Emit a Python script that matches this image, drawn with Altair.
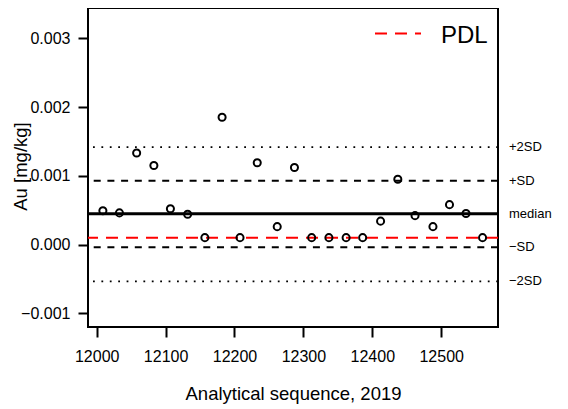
import altair as alt
import pandas as pd

# ---- data ----
seq = [12009, 12033, 12058, 12083, 12107, 12132, 12157, 12182, 12208, 12233, 12262, 12287,
       12312, 12337, 12362, 12386, 12412, 12437, 12462, 12488, 12512, 12536, 12560]
au = [0.00049, 0.00046, 0.00133, 0.00115, 0.00052, 0.00044, 0.00010, 0.00185, 0.00010, 0.00119,
      0.00026, 0.00112, 0.00010, 0.00010, 0.00010, 0.00010, 0.00034, 0.00095, 0.00042, 0.00026,
      0.00058, 0.00045, 0.00010]
pdl_value = [0.0001]
pdl_label = ["PDL"]
ref_labels = ["+2SD", "+SD", "median", "\u2212SD", "\u22122SD"]
ref_values = [0.001417, 0.000928, 0.000446, -0.000040, -0.000535]
ref_style = ["dotted", "dashed", "solid", "dashed", "dotted"]
x_ticks = [12000, 12100, 12200, 12300, 12400, 12500]
y_ticks = [-0.001, 0.0, 0.001, 0.002, 0.003]
x_domain = [11987.4, 12582.4]
y_domain = [-0.0012, 0.00344]

W, H = 410, 319
FONT = "Liberation Sans"

pts = pd.DataFrame({"seq": seq, "au": au})
refs = pd.DataFrame({"label": ref_labels, "value": ref_values, "style": ref_style})
pdl = pd.DataFrame({"value": pdl_value, "label": pdl_label})

xsc = alt.Scale(domain=x_domain, nice=False, zero=False)
ysc = alt.Scale(domain=y_domain, nice=False, zero=False)

xaxis = alt.Axis(values=x_ticks, format="d", title="Analytical sequence, 2019", grid=False,
                 domain=False, tickSize=10, tickWidth=2, tickColor="black",
                 labelPadding=11, labelFontSize=16, labelColor="black", labelOverlap=False,
                 labelFont=FONT, titleFont=FONT,
                 titleFontSize=18.5, titleFontWeight="normal", titleColor="black",
                 titleBaseline="alphabetic", titleY=72)
yaxis = alt.Axis(values=y_ticks, format=".3f", title="Au [mg/kg]", grid=False,
                 domain=False, tickSize=10, tickWidth=2, tickColor="black",
                 labelPadding=8, labelFontSize=16, labelColor="black", labelOverlap=False,
                 labelFont=FONT, titleFont=FONT,
                 titleFontSize=18.5, titleFontWeight="normal", titleColor="black",
                 titleAngle=270, titleAlign="center", titleBaseline="alphabetic",
                 titleX=-61.5, titleY=158)

base_refs = alt.Chart(refs)

dotted = base_refs.transform_filter(alt.datum.style == "dotted").mark_rule(
    color="black", strokeWidth=1.8, strokeDash=[1.8, 6.6]
).encode(y=alt.Y("value:Q", scale=ysc, axis=yaxis))

dashed = base_refs.transform_filter(alt.datum.style == "dashed").mark_rule(
    color="black", strokeWidth=2, strokeDash=[7, 6.7]
).encode(y=alt.Y("value:Q", scale=ysc))

solid = base_refs.transform_filter(alt.datum.style == "solid").mark_rule(
    color="black", strokeWidth=3
).encode(y=alt.Y("value:Q", scale=ysc))

ref_text = base_refs.mark_text(
    align="left", baseline="middle", fontSize=13, font=FONT, color="black"
).encode(x=alt.value(W + 11), y=alt.Y("value:Q", scale=ysc), text="label:N")

pdl_line = alt.Chart(pdl).mark_rule(
    color="#ff0000", strokeWidth=2, strokeDash=[12, 8]
).encode(y=alt.Y("value:Q", scale=ysc))

points = alt.Chart(pts).mark_point(
    shape="circle", filled=False, color="black", strokeWidth=2, size=50, opacity=1
).encode(
    x=alt.X("seq:Q", scale=xsc, axis=xaxis),
    y=alt.Y("au:Q", scale=ysc),
)

# legend key (top right)
leg_line = alt.Chart(pdl).mark_rule(
    color="#ff0000", strokeWidth=2, strokeDash=[12, 8]
).encode(x=alt.value(287), x2=alt.value(333), y=alt.value(25.5))
leg_text = alt.Chart(pdl).mark_text(
    align="left", baseline="alphabetic", fontSize=24, font=FONT, color="black"
).encode(x=alt.value(353), y=alt.value(35.3), text="label:N")

chart = alt.layer(
    dotted, dashed, solid, pdl_line, points, ref_text, leg_line, leg_text
).properties(
    width=W, height=H,
    autosize=alt.AutoSizeParams(type="none"),
    padding={"left": 80, "top": 0, "right": 62, "bottom": 80},
).configure(
    background="white",
    view=alt.ViewConfig(stroke="black", strokeWidth=2),
)

chart.save("out.html", embed_options={"renderer": "svg", "actions": False})
